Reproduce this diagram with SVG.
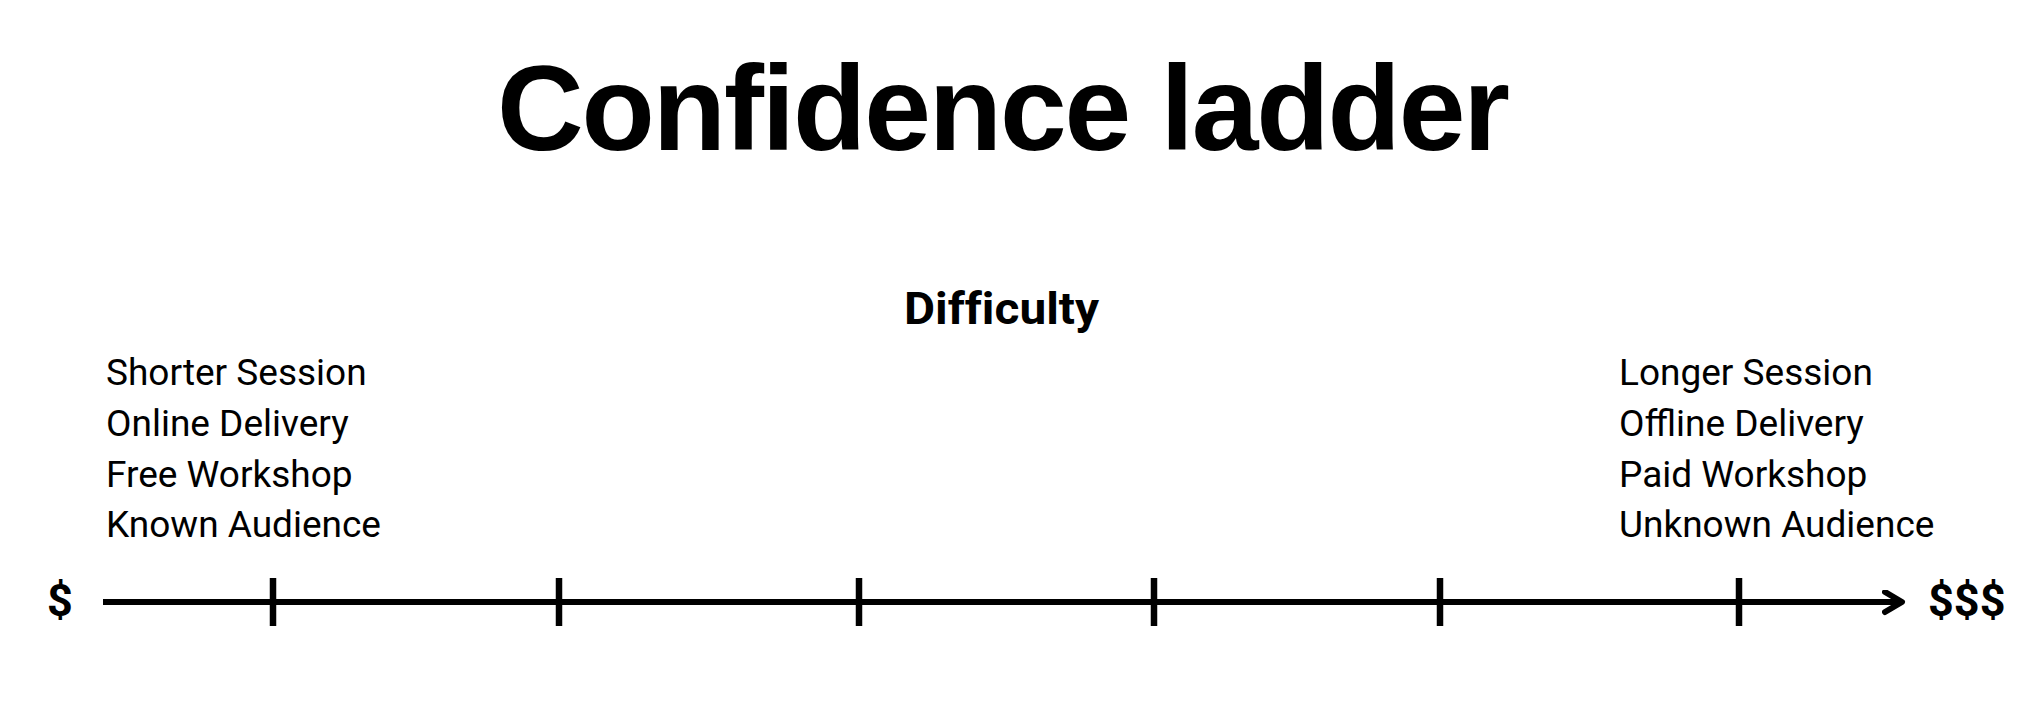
<svg xmlns="http://www.w3.org/2000/svg" width="2018" height="726" viewBox="0 0 2018 726">
<style>
.title{font-family:"Liberation Sans",Arial,sans-serif;font-weight:bold;font-size:120px;fill:#000}
.head{font-family:Roboto,"Liberation Sans",sans-serif;font-weight:bold;font-size:44px;fill:#000;font-variant-ligatures:none}
.item{font-family:Roboto,"Liberation Sans",sans-serif;font-size:37px;fill:#000}
.cur{font-family:Roboto,"Liberation Sans",sans-serif;font-weight:bold;font-size:45px;fill:#000}
.axis{stroke:#000;stroke-width:6;fill:none}
.tick{stroke:#000;stroke-width:6.5;fill:none}
</style>
<defs>
<marker id="arrow" markerUnits="userSpaceOnUse" markerWidth="30" markerHeight="30" refX="20" refY="12" orient="auto">
<path d="M3,2 L20,12 L3,22" fill="none" stroke="#000" stroke-width="6" stroke-linecap="round" stroke-linejoin="round"/>
</marker>
</defs>
<rect width="2018" height="726" fill="#fff"/>
<g id="title"><text class="title" x="497" y="150" textLength="1013" lengthAdjust="spacing">Confidence ladder</text></g>
<g id="difficulty"><text class="head" x="904" y="324" textLength="195" lengthAdjust="spacingAndGlyphs">Difficulty</text></g>
<g id="left-list">
<text class="item" x="106" y="385">Shorter Session</text>
<text class="item" x="106" y="436">Online Delivery</text>
<text class="item" x="106" y="487">Free Workshop</text>
<text class="item" x="106" y="537">Known Audience</text>
</g>
<g id="right-list">
<text class="item" x="1619" y="385">Longer Session</text>
<text class="item" x="1619" y="436">Offline Delivery</text>
<text class="item" x="1619" y="487">Paid Workshop</text>
<text class="item" x="1619" y="537">Unknown Audience</text>
</g>
<g id="low"><text class="cur" x="47" y="616">$</text></g>
<g id="high"><text class="cur" x="1928" y="616">$$$</text></g>
<g id="connectors">
<line class="axis" x1="103" y1="602" x2="1902" y2="602" marker-end="url(#arrow)"/>
<line class="tick" x1="273" y1="578" x2="273" y2="626"/>
<line class="tick" x1="559" y1="578" x2="559" y2="626"/>
<line class="tick" x1="859" y1="578" x2="859" y2="626"/>
<line class="tick" x1="1154" y1="578" x2="1154" y2="626"/>
<line class="tick" x1="1440" y1="578" x2="1440" y2="626"/>
<line class="tick" x1="1739" y1="578" x2="1739" y2="626"/>
</g>
</svg>
